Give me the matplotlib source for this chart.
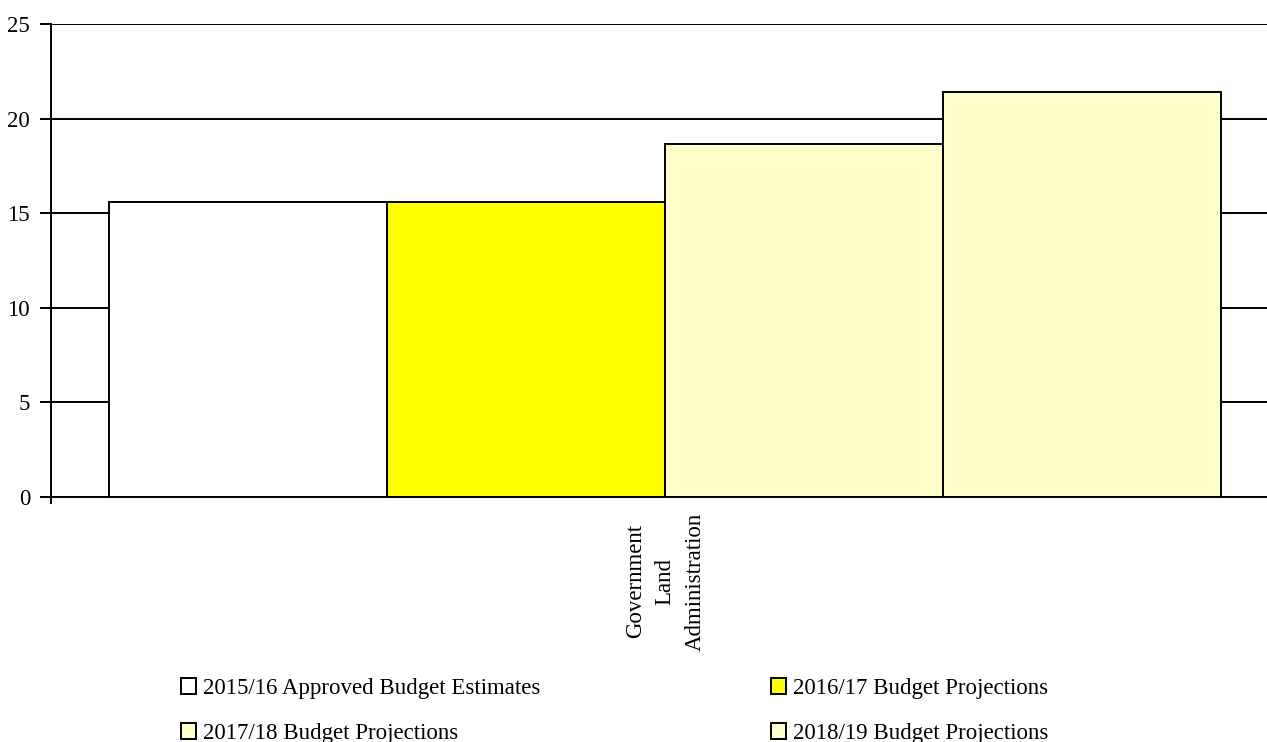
import matplotlib
matplotlib.use("Agg")
import matplotlib.pyplot as plt
from matplotlib.patches import Patch

# Data
category = "Government\nLand\nAdministration"
series_names = [
    "2015/16 Approved Budget Estimates",
    "2016/17 Budget Projections",
    "2017/18 Budget Projections",
    "2018/19 Budget Projections",
]
values = [15.6, 15.6, 18.65, 21.4]
colors = ["#FFFFFF", "#FFFF00", "#FFFFCC", "#FFFFCC"]
y_ticks = [0, 5, 10, 15, 20, 25]

plt.rcParams['font.family'] = ['Liberation Serif', 'DejaVu Serif']
FS = 16.5

fig = plt.figure(figsize=(12.67, 7.42), dpi=100)
ax = fig.add_axes([51 / 1267, 1 - 497 / 742, (1279 - 51) / 1267, (497 - 24) / 742])

width = 1.0
offsets = [-1.5, -0.5, 0.5, 1.5]
for off, val, col, name in zip(offsets, values, colors, series_names):
    ax.bar(off * width, val, width=width, color=col, edgecolor="black",
           linewidth=1.4, label=name, zorder=3)

half = (1279 - 51) / 2 / 278
ax.set_xlim(-half, half)
ax.set_ylim(0, 25)
ax.set_yticks(y_ticks)
ax.set_yticklabels([str(t) for t in y_ticks], fontsize=FS)
ax.yaxis.grid(True, color="black", linewidth=1.4, zorder=0)
ax.set_axisbelow(True)

ax.set_xticks([0])
ax.set_xticklabels([category], rotation=90, fontsize=FS, ha="center",
                   va="top", multialignment="center", linespacing=1.55)
ax.set_xticks([-half, half], minor=True)
ax.tick_params(axis="x", which="major", length=0, pad=11)
ax.tick_params(axis="x", which="minor", length=5, width=1.4)
ax.tick_params(axis="y", length=8, width=1.4, pad=7)

for side in ["top", "right"]:
    ax.spines[side].set_visible(False)
ax.spines["left"].set_linewidth(1.4)
ax.spines["bottom"].set_linewidth(1.4)

# legend filled row by row, like the original
order = [0, 2, 1, 3]
handles = [Patch(facecolor=colors[i], edgecolor="black", linewidth=1.4) for i in order]
labels = [series_names[i] for i in order]
fig.legend(handles, labels, loc="upper left",
           bbox_to_anchor=(181 / 1267, 1 - 678 / 742), ncol=2, frameon=False,
           fontsize=FS, handlelength=0.65, handleheight=0.65,
           handletextpad=0.3, columnspacing=10.08, labelspacing=1.05,
           borderpad=0, borderaxespad=0)

fig.savefig("out.png", dpi=100)
